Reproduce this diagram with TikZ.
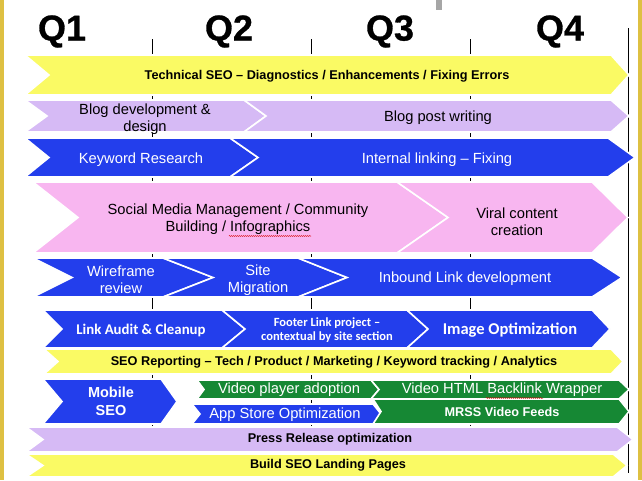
\documentclass[tikz,border=0pt]{standalone}
\usepackage{fontspec}
\setmainfont{Liberation Sans}
\newfontfamily\carl{Carlito}
\newfontfamily\qfont[FakeBold=0.8]{Liberation Sans Bold}
\usetikzlibrary{decorations.pathmorphing}
\definecolor{cyel}{RGB}{250,250,100}
\definecolor{clav}{RGB}{214,186,245}
\definecolor{cblue}{RGB}{35,62,236}
\definecolor{cpink}{RGB}{248,182,240}
\definecolor{cgreen}{RGB}{22,136,52}
\definecolor{cgold}{RGB}{222,192,66}
\newcommand{\mychev}[7]{\filldraw[#1] (#2,#4) -- ({#3-#7},#4) -- (#3,{(#4+#5)/2}) -- ({#3-#7},#5) -- (#2,#5) -- ({#2+#6},{(#4+#5)/2}) -- cycle;}
\begin{document}
\begin{tikzpicture}[x=1pt,y=-1pt,
  piece/.style={draw=white,line width=1.6pt,line join=miter},
  yel/.style={piece,fill=cyel},
  lav/.style={piece,fill=clav},
  blu/.style={piece,fill=cblue},
  pnk/.style={piece,fill=cpink},
  grn/.style={piece,fill=cgreen},
  txt/.style={inner sep=0pt,align=center},
  reg/.style={txt,font=\fontsize{14.7}{17}\selectfont},
  bld/.style={txt,font=\bfseries\fontsize{12.7}{15}\selectfont},
  wreg/.style={reg,text=white},
  cal/.style={txt,text=white,font=\carl\bfseries\fontsize{#1}{#1}\selectfont},
  qlab/.style={inner sep=0pt,font=\qfont\fontsize{36}{36}\selectfont},
  tick/.style={black,line width=0.7pt},
  squig/.style={red!85!black,line width=0.5pt,decorate,decoration={snake,amplitude=0.5pt,segment length=2pt}}]
\useasboundingbox (0,0) rectangle (642,480);
\fill[white] (0,0) rectangle (642,480);
\fill[cgold] (0,0) rectangle (3.5,480);
\fill[cgold] (637.5,0) rectangle (642,480);
\fill[gray!70] (436,0) rectangle (442,10);
% quarter labels
\node[qlab] (q1) at (62,31.5) {Q1};
\node[qlab] (q2) at (229,31.5) {Q2};
\node[qlab] (q3) at (390,31.5) {Q3};
\node[qlab] (q4) at (560,31.5) {Q4};
% quarter dividers
\draw[tick] (152,39) -- (152,472);
\draw[tick] (311,39) -- (311,472);
\draw[tick] (470,39) -- (470,472);
\draw[tick] (628,28) -- (628,473);
% row 1
\mychev{yel}{25}{629}{55}{95}{24}{18}
\node[bld] (tech) at (327,76) {Technical SEO – Diagnostics / Enhancements / Fixing Errors};
% row 2
\mychev{lav}{25}{266}{100}{132}{22}{22}
\mychev{lav}{244}{629}{100}{132}{22}{18}
\node[reg] (blogdev) at (145,119) {Blog development \&\\design};
\node[reg] (blogpost) at (438,118) {Blog post writing};
% row 3
\mychev{blu}{25}{258}{138}{177}{24}{28}
\mychev{blu}{230}{635}{138}{177}{28}{27}
\node[wreg] (kw) at (141,160) {Keyword Research};
\node[wreg] (intl) at (437,160) {Internal linking – Fixing};
% row 4
\mychev{pnk}{33}{448}{182}{253}{45}{51}
\mychev{pnk}{397}{628}{182}{253}{51}{36}
\node[reg] (social) at (238,219.5) {Social Media Management / Community\\Building / Infographics};
\node[reg] (viral) at (517,221.5) {Viral content\\creation};
\draw[squig] (229,236) -- (311,236);
% row 5
\mychev{blu}{33}{213}{258}{297}{39}{50}
\mychev{blu}{163}{347}{258}{297}{50}{49}
\mychev{blu}{298}{622}{258}{297}{49}{30}
\node[wreg] (wire) at (121,279.5) {Wireframe\\review};
\node[wreg] (site) at (258,280) {Site\\Migration};
\node[wreg] (inbound) at (465,279) {Inbound Link development};
% row 6
\mychev{blu}{43}{245}{310}{348}{19}{23}
\mychev{blu}{222}{428}{310}{348}{23}{21}
\mychev{blu}{407}{610}{310}{348}{21}{18}
\node[cal=14.8] (audit) at (141,330) {Link Audit \& Cleanup};
\node[cal=12.5,align=center] (footer) at (327,330) {Footer Link project –\\[1pt]contextual by site section};
\node[cal=16.5] (image) at (510,330) {Image Optimization};
% row 7
\mychev{yel}{44}{623}{349}{374}{14}{12}
\node[bld] (report) at (334,362) {SEO Reporting – Tech / Product / Marketing / Keyword tracking / Analytics};
% row 8
\mychev{blu}{43}{177}{379}{424}{19}{16}
\node[txt,text=white,font=\bfseries\fontsize{14.5}{18}\selectfont] (mobile) at (111,401) {Mobile\\SEO};
\mychev{grn}{197}{379}{380}{399}{7}{8}
\mychev{blu}{192}{381}{404}{424}{8}{8}
\mychev{grn}{371}{629}{380}{399}{8}{10}
\mychev{grn}{373}{629}{399}{424}{8}{10}
\node[wreg] (vpa) at (289,390) {Video player adoption};
\node[wreg] (aso) at (285,415) {App Store Optimization};
\node[wreg] (html) at (502,390) {Video HTML Backlink Wrapper};
\draw[squig] (486,398) -- (543,398);
\node[bld,text=white] (mrss) at (502,412) {MRSS Video Feeds};
% row 9
\mychev{lav}{26}{633}{427}{452}{17}{16}
\node[bld] (press) at (330,439) {Press Release optimization};
% row 10
\mychev{yel}{26}{627}{454}{477}{17}{14}
\node[bld] (landing) at (328,465) {Build SEO Landing Pages};
\end{tikzpicture}
\end{document}
